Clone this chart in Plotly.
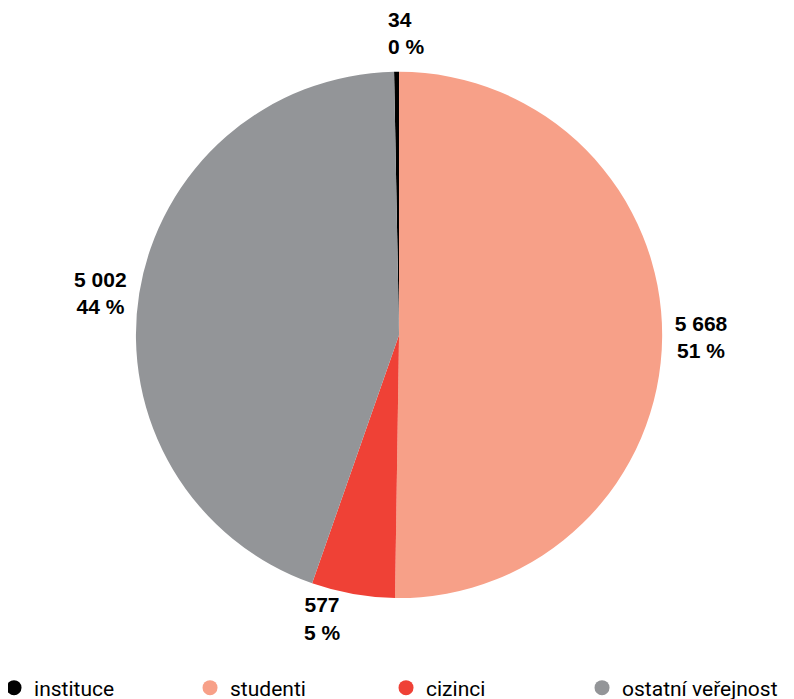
import plotly.graph_objects as go

labels = ["instituce", "studenti", "cizinci", "ostatní veřejnost"]
values = [34, 5668, 577, 5002]
percents = [0, 51, 5, 44]
colors = ["#000000", "#F7A088", "#EF4136", "#939598"]

total = sum(values)
rotation = -values[0] / total * 360


def fmt(v):
    return f"{v:,}".replace(",", " ")


slice_text = [f"<b>{fmt(v)}</b><br><b>{p} %</b>" for v, p in zip(values, percents)]
# the tiny top slice is labelled with a separate annotation (centred above the pie)
pie_text = [""] + slice_text[1:]

fig = go.Figure()
fig.add_trace(go.Pie(
    labels=labels,
    values=values,
    text=pie_text,
    textinfo="text",
    sort=False,
    direction="clockwise",
    rotation=rotation,
    marker=dict(colors=colors, line=dict(width=0)),
    textposition="outside",
    textfont=dict(family="Liberation Sans", size=21, color="#000000"),
    outsidetextfont=dict(family="Liberation Sans", size=21, color="#000000"),
    showlegend=False,
    domain=dict(x=[0.0, 0.985], y=[0.131, 0.906]),
    hoverinfo="label+value",
))

fig.add_annotation(
    text=slice_text[0], xref="paper", yref="paper",
    x=0.476, y=0.963, xanchor="left", yanchor="middle", align="left",
    showarrow=False,
    font=dict(family="Liberation Sans", size=21, color="#000000"),
)

for lab, col in zip(labels, colors):
    fig.add_trace(go.Scatter(
        x=[None], y=[None], mode="markers", name=lab,
        marker=dict(symbol="circle", size=15, color=col),
        showlegend=True,
    ))

fig.update_layout(
    width=794, height=699,
    paper_bgcolor="white",
    plot_bgcolor="white",
    margin=dict(l=0, r=0, t=0, b=20, autoexpand=False),
    xaxis=dict(visible=False),
    yaxis=dict(visible=False),
    legend=dict(
        orientation="h",
        x=-0.0176, xanchor="left",
        y=-0.0015, yanchor="middle",
        bgcolor="rgba(0,0,0,0)",
        font=dict(family="Roboto", size=21, color="#000000"),
        entrywidth=151,
    ),
)

fig.write_html("out.html")
